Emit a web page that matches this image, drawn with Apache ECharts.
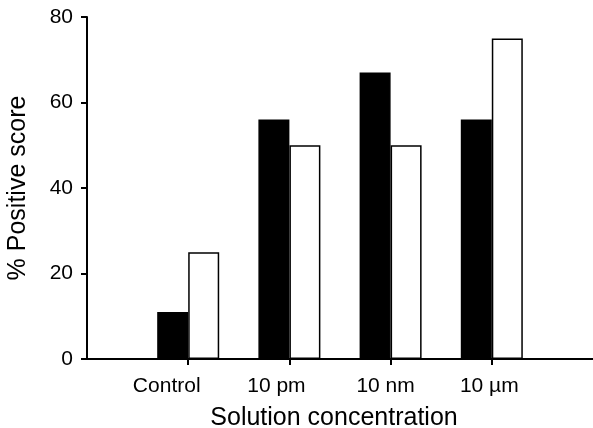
<!DOCTYPE html>
<html>
<head>
<meta charset="utf-8">
<script src="https://cdn.jsdelivr.net/npm/echarts@6/dist/echarts.min.js"></script>
<style>
html,body{margin:0;padding:0;background:#fff;}
#chart{width:593px;height:428px;}
</style>
</head>
<body>
<div id="chart"></div>
<script>
// Data
var categories = ['Control', '10 pm', '10 nm', '10 \u00b5m'];
var categoryPositions = [1, 2, 3, 4];
var blackValues = [11, 56, 67, 56];
var whiteValues = [25, 50, 50, 75];
var yTicks = [0, 20, 40, 60, 80];

var FONT = "'Liberation Sans', Arial, Helvetica, sans-serif";
var labelShift = { 1: 43, 2: 26, 3: 10, 4: 5 };

function pairs(vals) {
  return categoryPositions.map(function (p, i) { return [p, vals[i]]; });
}

var chart = echarts.init(document.getElementById('chart'), null, { renderer: 'canvas' });
var rich = {};
categoryPositions.forEach(function (p) {
  rich['c' + p] = { fontFamily: FONT, fontSize: 21, color: '#000', padding: [0, labelShift[p], 0, 0] };
});

chart.setOption({
  animation: false,
  backgroundColor: '#fff',
  grid: { left: 87, right: 0, top: 17, bottom: 69, containLabel: false, outerBoundsMode: 'none' },
  xAxis: {
    type: 'value',
    min: 0,
    max: 5,
    interval: 1,
    name: 'Solution concentration',
    nameLocation: 'middle',
    nameGap: 47,
    nameTextStyle: { fontFamily: FONT, fontSize: 25, color: '#000', padding: [0, 12, 0, 0] },
    axisLine: { show: true, lineStyle: { color: '#000', width: 2 } },
    axisTick: { show: true, customValues: categoryPositions, length: 6, lineStyle: { color: '#000', width: 2 } },
    axisLabel: {
      customValues: categoryPositions,
      margin: 17,
      formatter: function (v) {
        var i = categoryPositions.indexOf(v);
        return i >= 0 ? '{c' + v + '|' + categories[i] + '}' : '';
      },
      rich: rich
    },
    splitLine: { show: false }
  },
  yAxis: {
    type: 'value',
    min: 0,
    max: 80,
    interval: 20,
    name: '% Positive score',
    nameLocation: 'middle',
    nameGap: 56,
    nameTextStyle: { fontFamily: FONT, fontSize: 25, color: '#000' },
    axisLine: { show: true, lineStyle: { color: '#000', width: 2 } },
    axisTick: { show: true, length: 6, lineStyle: { color: '#000', width: 2 } },
    axisLabel: {
      margin: 14,
      fontFamily: FONT, fontSize: 21, color: '#000',
      formatter: function (v) { return yTicks.indexOf(v) >= 0 ? String(v) : ''; }
    },
    splitLine: { show: false }
  },
  series: [
    {
      type: 'bar',
      data: pairs(blackValues),
      barWidth: 31,
      barGap: '0%',
      itemStyle: { color: '#000', borderColor: '#000', borderWidth: 1.5 }
    },
    {
      type: 'bar',
      data: pairs(whiteValues),
      barWidth: 31,
      barGap: '0%',
      itemStyle: { color: '#fff', borderColor: '#000', borderWidth: 1.5 }
    }
  ]
});
</script>
</body>
</html>
